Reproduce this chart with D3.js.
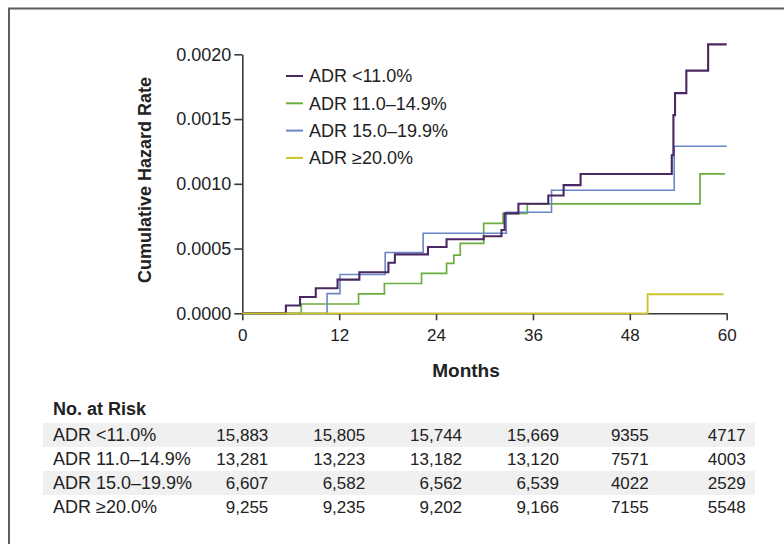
<!DOCTYPE html>
<html>
<head>
<meta charset="utf-8">
<script src="https://d3js.org/d3.v7.min.js"></script>
<style>
  body { margin: 0; background: #fff; }
  text { font-family: "Liberation Sans", Arial, sans-serif; fill: #222; }
</style>
</head>
<body>
<svg id="chart" width="784" height="544"></svg>
<script>
// series names and colours
let seriesNames = ["ADR <11.0%", "ADR 11.0\u201314.9%", "ADR 15.0\u201319.9%", "ADR \u226520.0%"];
let seriesColors = ["#4a2863", "#6aae3f", "#6b86c6", "#c9c52b"];

// step points (months, cumulative hazard)
let monthsLow  = [0, 5.4, 7.15, 9.1, 11.8, 14.5, 18.1, 18.9, 23.0, 25.3, 29.9, 32.1, 32.5, 34.2, 37.9, 39.8, 41.9, 53.2, 53.4, 53.6, 55.0, 57.7, 60];
let hazardLow  = [0, 0.00006, 0.000126, 0.000194, 0.00026, 0.000317, 0.00039, 0.000455, 0.000512, 0.000572, 0.000595, 0.000643, 0.000772, 0.000846, 0.00091, 0.00099, 0.001076, 0.00122, 0.00153, 0.0017, 0.001874, 0.002077, 0.002077];
let monthsMid  = [0, 7.3, 14.4, 17.6, 22.2, 25.3, 26.2, 27.0, 29.9, 32.3, 35.3, 56.7, 59.8];
let hazardMid  = [0, 0.000072, 0.00015, 0.00023, 0.000308, 0.000386, 0.00045, 0.00054, 0.000695, 0.000772, 0.000845, 0.001076, 0.001076];
let monthsHigh = [0, 10.5, 12.1, 17.7, 22.4, 32.7, 38.3, 53.5, 60];
let hazardHigh = [0, 0.000152, 0.0003, 0.00047, 0.000618, 0.00078, 0.00095, 0.00129, 0.00129];
let monthsTop  = [0, 50.2, 59.6];
let hazardTop  = [0, 0.000147, 0.000147];

let xTicks = [0, 12, 24, 36, 48, 60];
let yTicks = [0, 0.0005, 0.0010, 0.0015, 0.0020];

// number at risk, one array per group, at each x tick
let riskLow  = [15883, 15805, 15744, 15669, 9355, 4717];
let riskMid  = [13281, 13223, 13182, 13120, 7571, 4003];
let riskHigh = [6607, 6582, 6562, 6539, 4022, 2529];
let riskTop  = [9255, 9235, 9202, 9166, 7155, 5548];

let svg = d3.select("#chart");

// frame (left and top edges only, the rest is cut off)
svg.append("path")
    .attr("d", "M9,544 L9,8.5 L784,8.5")
    .attr("fill", "none")
    .attr("stroke", "#5e5e5e")
    .attr("stroke-width", 2);

let x = d3.scaleLinear().domain([0, 60]).range([242.3, 726.7]);
let y = d3.scaleLinear().domain([0, 0.002]).range([313.3, 54.3]);

let yAxis = svg.append("g")
    .attr("transform", "translate(" + x(0) + ",0)")
    .call(d3.axisLeft(y).tickValues(yTicks).tickFormat(d3.format(".4f"))
        .tickSize(8).tickSizeOuter(0).tickPadding(3));
yAxis.selectAll("text").attr("font-size", "18px").attr("font-family", "Liberation Sans");

let xAxis = svg.append("g")
    .attr("transform", "translate(0," + y(0) + ")")
    .call(d3.axisBottom(x).tickValues(xTicks).tickFormat(d3.format("d"))
        .tickSize(7).tickSizeOuter(0).tickPadding(9));
xAxis.selectAll("text").attr("font-size", "17px").attr("font-family", "Liberation Sans");

svg.selectAll(".domain, .tick line")
    .attr("stroke", "#3a3a3a")
    .attr("stroke-width", 1.6);
svg.selectAll(".tick text").attr("fill", "#222");

svg.append("text")
    .attr("transform", "translate(145,180) rotate(-90)")
    .attr("text-anchor", "middle")
    .attr("dy", "0.35em")
    .attr("font-size", "18px")
    .attr("font-weight", "bold")
    .text("Cumulative Hazard Rate");

svg.append("text")
    .attr("x", 466)
    .attr("y", 377)
    .attr("text-anchor", "middle")
    .attr("font-size", "19px")
    .attr("font-weight", "bold")
    .text("Months");

// curves
let curves = [
    {i: 1, m: monthsMid, h: hazardMid, w: 1.7},
    {i: 2, m: monthsHigh, h: hazardHigh, w: 1.6},
    {i: 0, m: monthsLow, h: hazardLow, w: 2.1},
    {i: 3, m: monthsTop, h: hazardTop, w: 1.8}
];
let line = d3.line()
    .x(function(d) { return x(d[0]); })
    .y(function(d) { return y(d[1]); })
    .curve(d3.curveStepAfter);

curves.forEach(function(c) {
    svg.append("path")
        .attr("d", line(d3.zip(c.m, c.h)))
        .attr("fill", "none")
        .attr("stroke", seriesColors[c.i])
        .attr("stroke-width", c.w);
});

// legend
let legend = svg.selectAll(".legend")
    .data(seriesNames)
    .enter()
    .append("g")
    .attr("transform", function(d, i) { return "translate(286," + (76 + i * 27.3) + ")"; });
legend.append("line")
    .attr("x1", 0).attr("x2", 17)
    .attr("stroke", function(d, i) { return seriesColors[i]; })
    .attr("stroke-width", 2);
legend.append("text")
    .attr("x", 23)
    .attr("dy", "0.35em")
    .attr("font-size", "18px")
    .text(function(d) { return d; });

// number at risk table
let riskRows = [riskLow, riskMid, riskHigh, riskTop];
let rowY = d3.scaleBand().domain(d3.range(4)).range([423, 519]);

svg.append("text")
    .attr("x", 53)
    .attr("y", 415)
    .attr("font-size", "18px")
    .attr("font-weight", "bold")
    .text("No. at Risk");

svg.selectAll(".stripe")
    .data([0, 2])
    .enter()
    .append("rect")
    .attr("x", 43)
    .attr("width", 712)
    .attr("y", function(d) { return rowY(d); })
    .attr("height", rowY.bandwidth())
    .attr("fill", "#f0f0f0");

seriesNames.forEach(function(name, r) {
    svg.append("text")
        .attr("x", 53)
        .attr("y", rowY(r) + rowY.bandwidth() / 2)
        .attr("dy", "0.35em")
        .attr("font-size", "18px")
        .text(name);
});

xTicks.forEach(function(t, c) {
    let col = riskRows.map(function(row) { return row[c]; });
    let fmt = d3.max(col) >= 10000 ? d3.format(",") : d3.format("d");
    let texts = svg.selectAll(".col" + c)
        .data(col)
        .enter()
        .append("text")
        .attr("class", "col" + c)
        .attr("y", function(d, r) { return rowY(r) + rowY.bandwidth() / 2; })
        .attr("dy", "0.35em")
        .attr("font-size", "17px")
        .attr("text-anchor", "end")
        .text(function(d) { return fmt(d); });
    let maxW = 0;
    texts.each(function() { maxW = Math.max(maxW, this.getComputedTextLength()); });
    texts.attr("x", x(t) + maxW / 2);
});
</script>
</body>
</html>
